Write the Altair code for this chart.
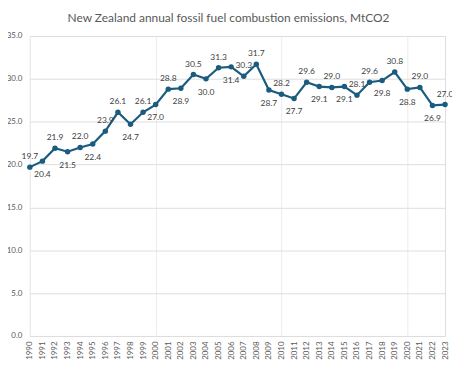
import altair as alt
import pandas as pd

years = list(range(1990, 2024))
emissions = [19.7, 20.4, 21.9, 21.5, 22.0, 22.4, 23.9, 26.1, 24.7, 26.1,
             27.0, 28.8, 28.9, 30.5, 30.0, 31.3, 31.4, 30.3, 31.7, 28.7,
             28.2, 27.7, 29.6, 29.1, 29.0, 29.1, 28.1, 29.6, 29.8, 30.8,
             28.8, 29.0, 26.9, 27.0]
label_side = ["above", "below", "above", "below", "above", "below", "above", "above", "below", "above",
              "below", "above", "below", "above", "below", "above", "below", "above", "above", "below",
              "above", "below", "above", "below", "above", "below", "above", "above", "below", "above",
              "below", "above", "below", "above"]
y_ticks = [0, 5, 10, 15, 20, 25, 30, 35]

df = pd.DataFrame({"year": years, "value": emissions, "side": label_side})
df["label"] = df["value"].map(lambda v: f"{v:.1f}")

FONT = "Lato"
LINE = "#1b5c7e"

x = alt.X("year:Q", scale=alt.Scale(domain=[1990, 2023], nice=False, zero=False),
          axis=alt.Axis(values=years, format="d", labelAngle=-90, labelFontSize=8,
                        labelColor="#595959", labelFont=FONT, ticks=False, domain=False,
                        labelPadding=5, labelBaseline="middle", labelAlign="right",
                        title=None, labelOverlap=False,
                        gridColor={"condition": {"test": "datum.value % 10 === 0", "value": "#ececec"},
                                   "value": "transparent"}))
y = alt.Y("value:Q", scale=alt.Scale(domain=[0, 35], nice=False),
          axis=alt.Axis(values=y_ticks, format=".1f", labelFontSize=8, labelColor="#595959",
                        labelFont=FONT, ticks=False, domain=False, labelPadding=8,
                        gridColor="#dedede", title=None))

base = alt.Chart(df)
line = base.mark_line(color=LINE, strokeWidth=2.2).encode(x=x, y=y)
pts = base.mark_circle(color=LINE, size=30, opacity=1).encode(x=x, y=y)
above = base.transform_filter("datum.side == 'above'").mark_text(
    dy=-11, fontSize=8.5, color="#404040", font=FONT).encode(x=x, y=y, text="label:N")
below = base.transform_filter("datum.side == 'below'").mark_text(
    dy=13, fontSize=8.5, color="#404040", font=FONT).encode(x=x, y=y, text="label:N")

chart = (line + pts + above + below).properties(
    width=418, height=302,
    autosize=alt.AutoSizeParams(type="none"),
    padding={"left": 22, "top": 27, "right": 7, "bottom": 24},
    title=alt.TitleParams("New Zealand annual fossil fuel combustion emissions, MtCO2",
                          fontSize=12, font=FONT, fontWeight="normal", color="#595959",
                          anchor="middle", dx=-9, offset=7),
).configure_view(stroke=None).configure(background="white")

chart.save("out.html", embed_options={"renderer": "svg", "actions": False})
